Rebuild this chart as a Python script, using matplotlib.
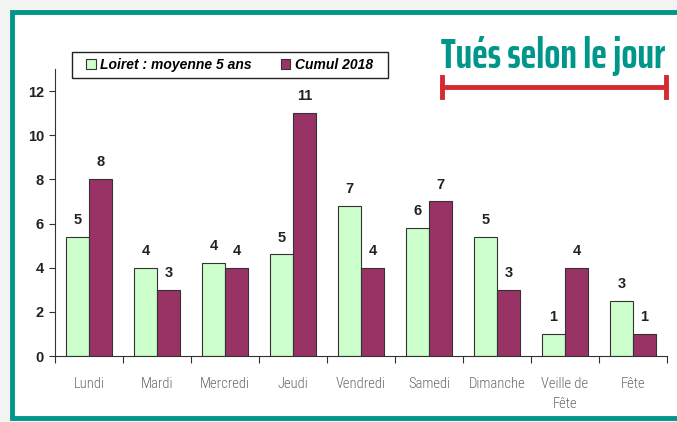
import numpy as np
import matplotlib.pyplot as plt
from matplotlib.patches import Rectangle
from matplotlib.lines import Line2D

jours = ["Lundi", "Mardi", "Mercredi", "Jeudi", "Vendredi", "Samedi",
         "Dimanche", "Veille de\nFête", "Fête"]
loiret = [5.4, 4.0, 4.2, 4.6, 6.8, 5.8, 5.4, 1.0, 2.5]
cumul = [8, 3, 4, 11, 4, 7, 3, 4, 1]
yticks = [0, 2, 4, 6, 8, 10, 12]

vert = "#ccffcc"
violet = "#993366"
teal = "#00968a"
W, H = 677, 422

fig = plt.figure(figsize=(W/100, H/100), dpi=100)
fig.patch.set_facecolor("white")

# cadre autour du graphique
fig.patches.append(Rectangle((0, 0), 1, 1, transform=fig.transFigure,
                             facecolor="#f3f3f1", edgecolor="none", zorder=-3))
fig.patches.append(Rectangle((12/W, 4/H), 1.0, 1 - 16/H, transform=fig.transFigure,
                             facecolor="white", edgecolor=teal, linewidth=3.5, zorder=-2))

ax = fig.add_axes([55/W, 66/H, 612/W, 287/H])
ax.set_facecolor("none")
x = np.arange(len(jours))
w = 0.34
ax.bar(x - w/2, loiret, w, color=vert, edgecolor="#333333", linewidth=0.8,
       label="Loiret : moyenne 5 ans")
ax.bar(x + w/2, cumul, w, color=violet, edgecolor="#333333", linewidth=0.8,
       label="Cumul 2018")

for xi, v in zip(x - w/2, loiret):
    ax.text(xi, v + 0.45, str(int(v + 0.5)), ha="center", va="bottom",
            fontsize=10.5, fontweight="bold", family="Liberation Sans", color="#222222")
for xi, v in zip(x + w/2, cumul):
    ax.text(xi, v + 0.45, str(v), ha="center", va="bottom",
            fontsize=10.5, fontweight="bold", family="Liberation Sans", color="#222222")

ax.set_xlim(-0.5, len(jours) - 0.5)
ax.set_ylim(0, 13)
ax.set_yticks(yticks)
ax.set_yticklabels([str(t) for t in yticks], fontsize=10.5, fontweight="bold",
                   family="Liberation Sans", color="#222222")
ax.set_xticks(np.arange(len(jours) + 1) - 0.5)
ax.set_xticklabels([])
ax.set_xticks(x, minor=True)
ax.set_xticklabels(jours, minor=True, fontsize=10.5, color="#6a6a6a",
                   family="Roboto Condensed", fontweight=300, linespacing=1.55)
ax.tick_params(axis="x", which="minor", length=0, pad=15)
ax.tick_params(axis="x", which="major", length=5, color="#333333")
ax.tick_params(axis="y", length=4, color="#333333", pad=4)
for s in ["top", "right"]:
    ax.spines[s].set_visible(False)
ax.spines["left"].set_color("#333333")
ax.spines["bottom"].set_color("#333333")

# légende (cadre dessiné à part)
leg = ax.legend(loc="center left", ncol=2, frameon=False,
                prop={"family": "Liberation Sans", "style": "italic",
                      "weight": "bold", "size": 10},
                handlelength=0.7, handleheight=0.7, handletextpad=0.3,
                columnspacing=2.1, borderpad=0)
leg.set_bbox_to_anchor((79/W, 1 - 65/H), transform=fig.transFigure)
fig.patches.append(Rectangle((72/W, 1 - 78/H), 316/W, 26/H, transform=fig.transFigure,
                             facecolor="white", edgecolor="#222222", linewidth=1.0, zorder=-1))

# titre, taille ajustée à la largeur de la barre rouge
titre = fig.text(553/W, 1 - 56/H, "Tués selon le jour", ha="center", va="center",
                 fontsize=32, fontweight=700, family="Saira ExtraCondensed", color=teal)
fig.canvas.draw()
larg = titre.get_window_extent().width
titre.set_fontsize(32 * 224 / larg)

y_red = 1 - 87/H
fig.lines.append(Line2D([442/W, 666/W], [y_red, y_red], transform=fig.transFigure,
                        color="#d42a30", linewidth=3.5))
for xr in (442/W, 666/W):
    fig.lines.append(Line2D([xr, xr], [y_red - 10/H, y_red + 10/H],
                            transform=fig.transFigure, color="#d42a30", linewidth=3.5))

fig.savefig("out.png", dpi=100)
